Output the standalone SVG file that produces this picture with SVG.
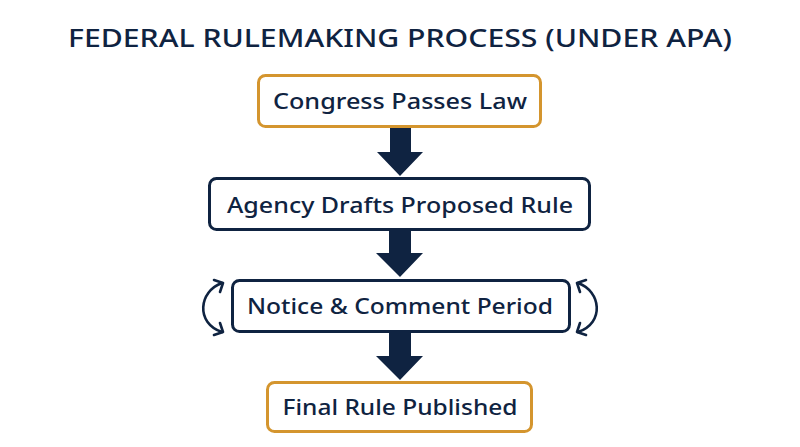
<svg xmlns="http://www.w3.org/2000/svg" width="800" height="447" viewBox="0 0 800 447">
<style>
.bg{fill:#ffffff}
.title{font-family:"Noto Sans","Open Sans","Liberation Sans",sans-serif;font-size:26px;font-weight:500;fill:#0f2341;text-anchor:middle}
.lbl{font-family:"Noto Sans","Open Sans","Liberation Sans",sans-serif;font-size:22px;font-weight:500;fill:#0f2341;text-anchor:middle}
.gold{fill:#ffffff;stroke:#d4952e;stroke-width:3}
.navy{fill:#ffffff;stroke:#0f2341;stroke-width:3}
.arr{fill:#0f2341}
.loop{fill:none;stroke:#0f2341;stroke-width:2.6;stroke-linecap:round;stroke-linejoin:round}
</style>
<rect class="bg" x="0" y="0" width="800" height="447"/>
<text class="title" x="400" y="47" textLength="664" lengthAdjust="spacingAndGlyphs">FEDERAL RULEMAKING PROCESS (UNDER APA)</text>
<g id="connectors">
<polygon class="arr" points="390,127 411,127 411,152 423,152 400,176 377,152 390,152"/>
<polygon class="arr" points="389,230 411,230 411,253 423,253 400,277 376,253 389,253"/>
<polygon class="arr" points="389,332 411,332 411,356 423,356 400,380 376,356 389,356"/>
<path class="loop" d="M222,283 C199,291 195,323 222,332"/>
<path class="loop" d="M214,280 L223,283 L220,292"/>
<path class="loop" d="M214,335 L223,332 L220,323"/>
<path class="loop" d="M578,283 C601,291 605,323 578,332"/>
<path class="loop" d="M586,280 L577,283 L580,292"/>
<path class="loop" d="M586,335 L577,332 L580,323"/>
</g>
<g id="node-congress">
<rect class="gold" x="258.5" y="75.5" width="282" height="51" rx="7"/>
<text class="lbl" x="400" y="109" textLength="254" lengthAdjust="spacingAndGlyphs">Congress Passes Law</text>
</g>
<g id="node-agency">
<rect class="navy" x="209.5" y="178.5" width="380" height="51" rx="7"/>
<text class="lbl" x="400" y="213" textLength="346" lengthAdjust="spacingAndGlyphs">Agency Drafts Proposed Rule</text>
</g>
<g id="node-notice">
<rect class="navy" x="232.5" y="280.5" width="337" height="51" rx="7"/>
<text class="lbl" x="400" y="314" textLength="306" lengthAdjust="spacingAndGlyphs">Notice &amp; Comment Period</text>
</g>
<g id="node-final">
<rect class="gold" x="267.5" y="382.5" width="264" height="49" rx="7"/>
<text class="lbl" x="400" y="415" textLength="235" lengthAdjust="spacingAndGlyphs">Final Rule Published</text>
</g>
</svg>
